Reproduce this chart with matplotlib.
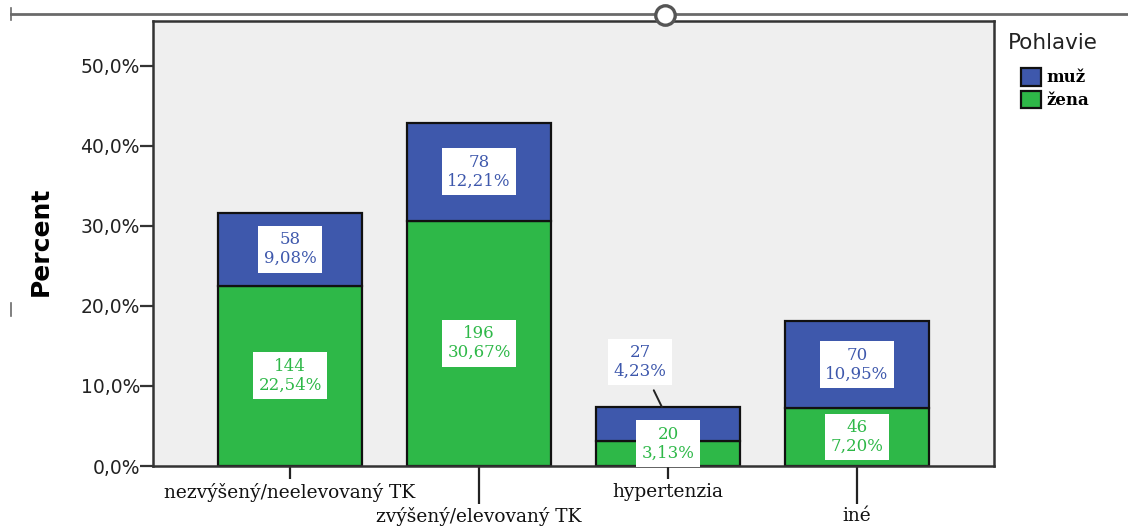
import matplotlib
matplotlib.use("Agg")
import matplotlib.pyplot as plt
from matplotlib.lines import Line2D
from matplotlib.patches import Patch
import numpy as np

kategorie = ['nezvýšený/neelevovaný TK', 'zvýšený/elevovaný TK', 'hypertenzia', 'iné']
zena_n = [144, 196, 20, 46]
muz_n = [58, 78, 27, 70]
zena_pct = [22.54, 30.67, 3.13, 7.20]
muz_pct = [9.08, 12.21, 4.23, 10.95]

modra = '#3E58AC'
zelena = '#2EB848'

fig = plt.figure(figsize=(11.28, 5.26), dpi=100)
ax = fig.add_axes([153 / 1128, 60 / 526, 841 / 1128, 445 / 526])
ax.set_facecolor('#EFEFEF')

x = np.arange(len(kategorie))
sirka = 0.757
ax.bar(x, zena_pct, sirka, color=zelena, edgecolor='#111111', linewidth=1.6, zorder=2)
ax.bar(x, muz_pct, sirka, bottom=zena_pct, color=modra, edgecolor='#111111', linewidth=1.6, zorder=2)

ax.set_xlim(-0.725, 3.725)
ax.set_ylim(0, 55.6)


def popis(n, p):
    return f"{n}\n{p:.2f}%".replace('.', ',')


box = dict(boxstyle='square,pad=0.32', facecolor='white', edgecolor='none')
for i in range(len(kategorie)):
    yz = zena_pct[i] / 2
    if i == 2:
        yz = 2.8
    ax.text(x[i], yz, popis(zena_n[i], zena_pct[i]), ha='center', va='center',
            color=zelena, fontsize=12, family='DejaVu Serif', bbox=box,
            zorder=5, clip_on=False, linespacing=1.15)
    ym = zena_pct[i] + muz_pct[i] / 2
    if i == 2:
        # malý segment: popis nad stĺpcom s vodiacou čiarou
        ax.annotate(popis(muz_n[i], muz_pct[i]), xy=(1.968, zena_pct[i] + muz_pct[i]),
                    xytext=(1.852, 13.0), ha='center', va='center',
                    color=modra, fontsize=12, family='DejaVu Serif', bbox=box,
                    linespacing=1.15, zorder=5,
                    arrowprops=dict(arrowstyle='-', color='#222222', lw=1.4,
                                    shrinkA=4, shrinkB=0))
    else:
        ax.text(x[i], ym, popis(muz_n[i], muz_pct[i]), ha='center', va='center',
                color=modra, fontsize=12, family='DejaVu Serif', bbox=box,
                zorder=5, linespacing=1.15)

# osi
ax.set_yticks(np.arange(0, 51, 10))
ax.set_yticklabels([f"{v:.1f}%".replace('.', ',') for v in np.arange(0, 51, 10)],
                   fontsize=13.5, color='#222222')
ax.tick_params(axis='y', length=9.4, width=1.6, pad=0, color='#333333')
ax.set_xticks(x)
ax.set_xticklabels(kategorie, fontsize=13.4, family='DejaVu Serif', color='#111111')
ax.tick_params(axis='x', length=9.4, width=1.6, pad=3, color='#222222')

for i, t in enumerate(ax.xaxis.get_major_ticks()):
    if i % 2 == 1:
        t.tick1line.set_markersize(27.5)
        t.label1.set_y(-24 / 445)

for s in ax.spines.values():
    s.set_color('#333333')
    s.set_linewidth(1.8)

ax.set_ylabel('Percent', fontsize=18, fontweight='bold')
ax.yaxis.set_label_coords(-0.119, 0.505)

# legenda
fig.text(1008 / 1128, 1 - 43 / 526, 'Pohlavie', fontsize=15.5, color='#222222',
         ha='left', va='center')
ruky = [Patch(facecolor=modra, edgecolor='#111111', linewidth=1.6, label='muž'),
        Patch(facecolor=zelena, edgecolor='#111111', linewidth=1.6, label='žena')]
leg = fig.legend(handles=ruky, loc='upper left', bbox_to_anchor=(1021 / 1128, 1 - 68 / 526),
                 frameon=False, borderpad=0, borderaxespad=0, handlelength=1.2,
                 handleheight=1.25, handletextpad=0.3, labelspacing=0.25,
                 prop={'family': 'DejaVu Serif', 'size': 12, 'weight': 'bold'})

# horná čiara s úchytom
yt = 1 - 14 / 526
fig.add_artist(Line2D([11 / 1128, 1], [yt, yt], color='#6a6a6a', lw=2))
fig.add_artist(Line2D([11 / 1128, 11 / 1128], [1 - 8 / 526, 1 - 20 / 526], color='#6a6a6a', lw=1.2))
fig.add_artist(Line2D([11 / 1128, 11 / 1128], [1 - 303 / 526, 1 - 316 / 526], color='#6a6a6a', lw=1.2))
fig.add_artist(Line2D([665 / 1128], [1 - 15 / 526], marker='o', markersize=14,
                      markerfacecolor='white', markeredgecolor='#555555', markeredgewidth=2.4))

fig.savefig('out.png', dpi=100)
